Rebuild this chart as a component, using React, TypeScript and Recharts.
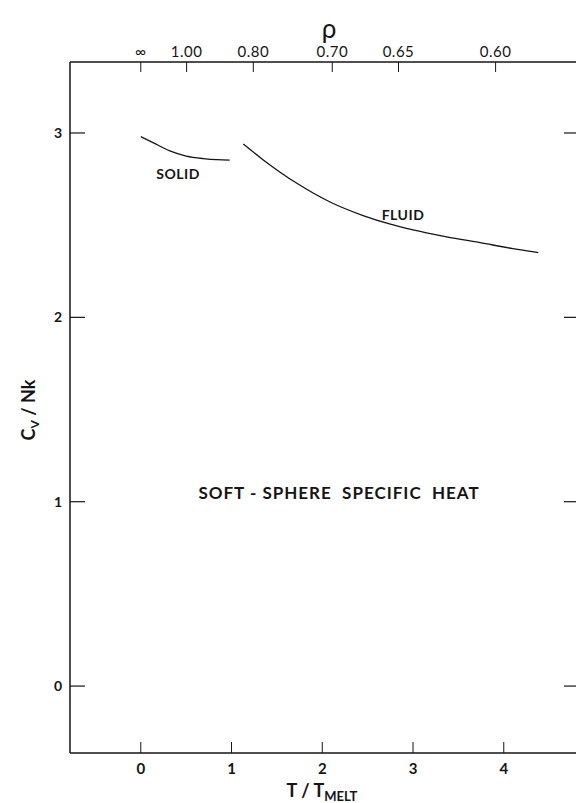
import React from "react";
import { LineChart, Line, XAxis, YAxis } from "recharts";

// solid branch (T/Tmelt, Cv/Nk)
const solidT = [0, 0.14, 0.32, 0.5, 0.69, 0.84, 0.98];
const solidCv = [2.98, 2.946, 2.903, 2.875, 2.861, 2.855, 2.853];

// fluid branch
const fluidT = [1.13, 1.35, 1.72, 2.08, 2.45, 2.75, 3.0, 3.37, 3.74, 4.1, 4.38];
const fluidCv = [2.94, 2.854, 2.727, 2.627, 2.552, 2.505, 2.474, 2.437, 2.405, 2.373, 2.351];

const tTicks = [0, 1, 2, 3, 4];
const cvTicks = [0, 1, 2, 3];
// density scale along the top, placed at its T/Tmelt position
const rhoTickT = [0, 0.505, 1.24, 2.11, 2.84, 3.91];
const rhoLabels = ["∞", "1.00", "0.80", "0.70", "0.65", "0.60"];

const solidData = solidT.map((t, i) => ({ t, cv: solidCv[i] }));
const fluidData = fluidT.map((t, i) => ({ t, cv: fluidCv[i] }));

const INK = "#151515";
const FONT = "Lato, 'Open Sans', sans-serif";

const LeftTick = ({ x, y, payload }) => (
  <g>
    <line x1={x} x2={x + 15} y1={y} y2={y} stroke={INK} strokeWidth={1.2} />
    <text x={x - 8} y={y} dy="0.35em" textAnchor="end" fontSize={14} fontWeight={700} fill={INK} fontFamily={FONT}>
      {payload.value}
    </text>
  </g>
);

const RightTick = ({ x, y }) => (
  <line x1={x} x2={x - 16} y1={y} y2={y} stroke={INK} strokeWidth={1.2} />
);

const BottomTick = ({ x, y, payload }) => (
  <g>
    <line x1={x} x2={x} y1={y} y2={y - 11} stroke={INK} strokeWidth={1} />
    <text x={x} y={y + 21} textAnchor="middle" fontSize={15} fontWeight={700} fill={INK} fontFamily={FONT}>
      {payload.value}
    </text>
  </g>
);

const TopTick = ({ x, y, index }) => (
  <g>
    <line x1={x} x2={x} y1={y} y2={y + 10} stroke={INK} strokeWidth={1} />
    <text x={x} y={y - 5} textAnchor="middle" fontSize={15} fill={INK} fontFamily={FONT} letterSpacing={0.5}>
      {rhoLabels[index]}
    </text>
  </g>
);

const Txt = ({ x, y, size, weight = 700, spacing = 0, children, rotate = 0 }) => (
  <div
    style={{
      position: "absolute",
      left: x,
      top: y,
      transform: `translate(-50%, -50%) rotate(${rotate}deg)`,
      fontSize: size,
      fontWeight: weight,
      letterSpacing: spacing,
      whiteSpace: "nowrap",
      color: INK,
      fontFamily: FONT,
      lineHeight: 1,
    }}
  >
    {children}
  </div>
);

export default function App() {
  return (
    <div style={{ position: "absolute", left: 0, top: 0, width: 576, height: 803, overflow: "hidden", background: "#fff" }}>
      <LineChart width={590} height={803} margin={{ top: 0, right: 0, bottom: 0, left: 0 }}>
        <XAxis
          xAxisId="bottom"
          type="number"
          dataKey="t"
          domain={[-0.78, 4.84]}
          allowDataOverflow
          ticks={tTicks}
          interval={0}
          height={50}
          tickSize={0}
          tickMargin={0}
          tickLine={false}
          tick={BottomTick}
          axisLine={{ stroke: INK, strokeWidth: 1.5 }}
        />
        <XAxis
          xAxisId="top"
          orientation="top"
          type="number"
          dataKey="t"
          domain={[-0.78, 4.84]}
          allowDataOverflow
          ticks={rhoTickT}
          interval={0}
          height={62}
          tickSize={0}
          tickMargin={0}
          tickLine={false}
          tick={TopTick}
          axisLine={{ stroke: INK, strokeWidth: 1.5 }}
        />
        <YAxis
          yAxisId="left"
          type="number"
          domain={[-0.363, 3.385]}
          allowDataOverflow
          ticks={cvTicks}
          interval={0}
          width={70}
          tickSize={0}
          tickMargin={0}
          tickLine={false}
          tick={LeftTick}
          axisLine={{ stroke: INK, strokeWidth: 1.5 }}
        />
        <YAxis
          yAxisId="right"
          orientation="right"
          type="number"
          domain={[-0.363, 3.385]}
          allowDataOverflow
          ticks={cvTicks}
          interval={0}
          width={10}
          tickSize={0}
          tickMargin={0}
          tickLine={false}
          tick={RightTick}
          axisLine={false}
        />
        <Line
          xAxisId="bottom"
          yAxisId="left"
          data={solidData}
          dataKey="cv"
          type="monotone"
          stroke={INK}
          strokeWidth={1.3}
          dot={false}
          isAnimationActive={false}
        />
        <Line
          xAxisId="bottom"
          yAxisId="left"
          data={fluidData}
          dataKey="cv"
          type="monotone"
          stroke={INK}
          strokeWidth={1.3}
          dot={false}
          isAnimationActive={false}
        />
      </LineChart>

      <Txt x={329} y={28} size={26} weight={400}>ρ</Txt>
      <Txt x={178} y={174} size={14} spacing={0.5}>SOLID</Txt>
      <Txt x={403} y={215} size={14} spacing={0.5}>FLUID</Txt>
      <Txt x={339} y={492} size={17} spacing={1}>SOFT - SPHERE&nbsp; SPECIFIC&nbsp; HEAT</Txt>
      <Txt x={30} y={410} size={18} rotate={-90}>
        C<sub style={{ fontSize: 12, verticalAlign: "-0.3em" }}>V</sub> / Nk
      </Txt>
      <Txt x={322} y={792} size={18}>
        T / T<sub style={{ fontSize: 13, verticalAlign: "-0.35em" }}>MELT</sub>
      </Txt>
    </div>
  );
}
